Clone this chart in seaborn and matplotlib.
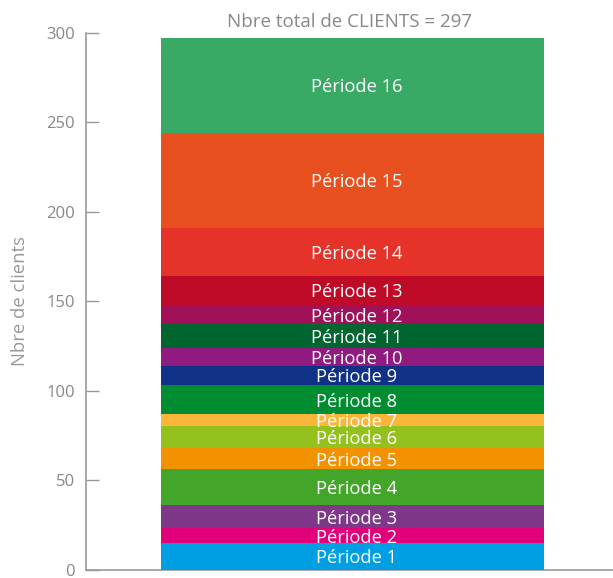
import seaborn as sns
import matplotlib.pyplot as plt
import numpy as np

# number of clients per period (stacked bottom -> top)
periodes = ['Période %d' % i for i in range(1, 17)]
clients = [15, 8, 13, 20, 12, 12, 7, 16, 11, 10, 13, 11, 16, 27, 53, 53]
couleurs = ['#009fe3', '#e2007a', '#7f3889', '#43a62a', '#f39200', '#95c11f',
            '#fbb63a', '#008d32', '#0f3287', '#911a80', '#00652f', '#a0115a',
            '#be0a26', '#e6332a', '#e8511f', '#39a966']
yticks = [0, 50, 100, 150, 200, 250, 300]

sns.set_style('white')
plt.rcParams['font.family'] = ['Open Sans', 'DejaVu Sans']

fig = plt.figure(figsize=(6.13, 5.78), dpi=100)
ax = fig.add_axes([0.1403, 0.0147, 0.8597, 0.9287])

total = int(np.sum(clients))
bas = 0
for nom, val, col in zip(periodes, clients, couleurs):
    sns.barplot(x=['total'], y=[val], bottom=bas, color=col, width=0.8,
                saturation=1, linewidth=0, zorder=3, ax=ax)
    # labels sit a touch right of the bar centre in the original
    ax.text(0.008, bas + val / 2, nom, ha='center', va='center_baseline', color='white',
            fontsize=13.2, zorder=4)
    bas += val

ax.set_xlim(-0.557, 0.543)
ax.set_ylim(0, 300)
ax.set_yticks(yticks)
ax.set_xticks([])
ax.set_xlabel('')
ax.set_ylabel('Nbre de clients', fontsize=13.3, color='#999999', labelpad=12)
ax.tick_params(axis='y', direction='in', length=9.4, width=1, color='#999999',
               labelcolor='#888888', labelsize=12, pad=8, left=True)
ax.set_title('Nbre total de CLIENTS = %d' % total, fontsize=13.5, color='#888888', pad=4)

for s in ['top', 'right']:
    ax.spines[s].set_visible(False)
for s in ['left', 'bottom']:
    ax.spines[s].set_color('#999999')
    ax.spines[s].set_linewidth(1.2)

plt.savefig('out.png', dpi=100)
plt.close()
